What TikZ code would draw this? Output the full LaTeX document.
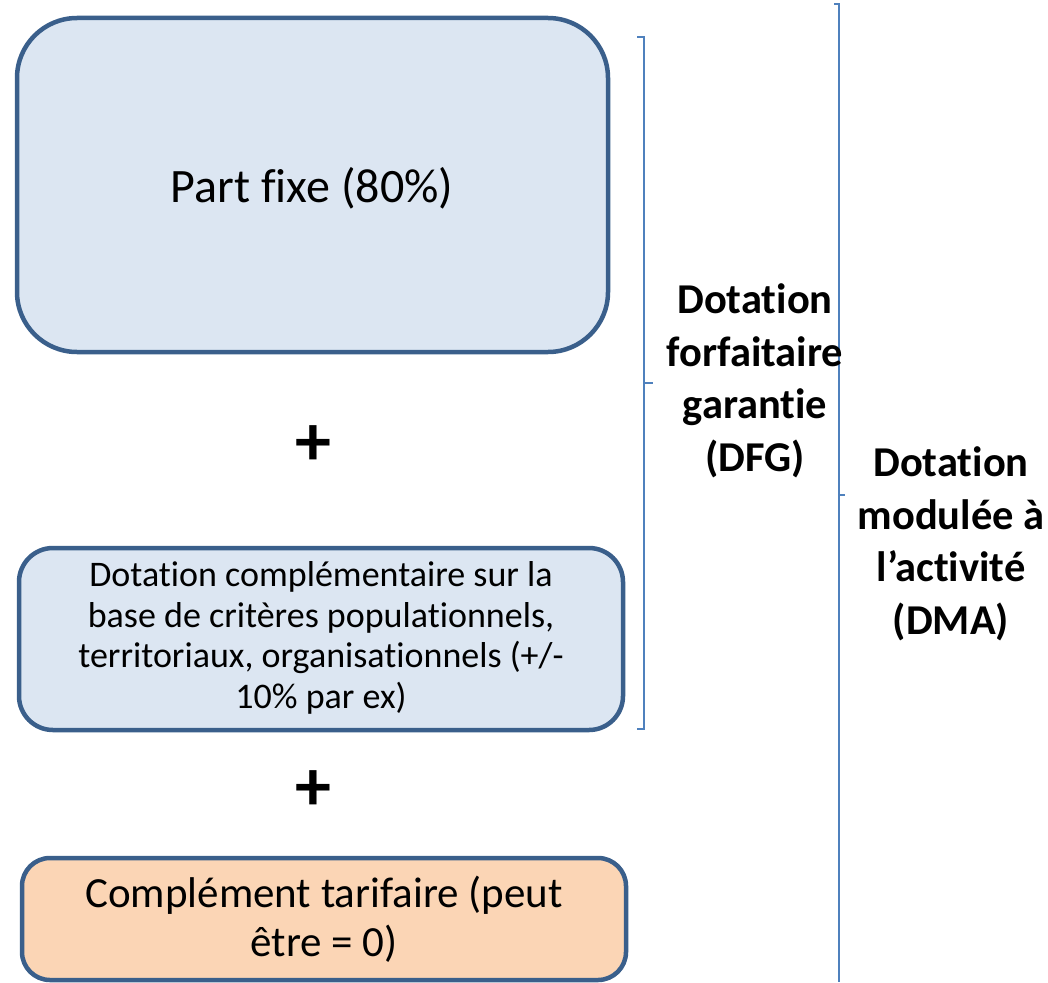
\documentclass[tikz,border=0pt]{standalone}
\usepackage{fontspec}
\setmainfont[Ligatures={NoCommon}]{Carlito}
\definecolor{boxline}{HTML}{3A5F8B}
\definecolor{bluefill}{HTML}{DCE6F2}
\definecolor{orangefill}{HTML}{FBD5B5}
\definecolor{brk}{HTML}{4F81BD}
\begin{document}
\begin{tikzpicture}[x=1pt,y=-1pt,
  box/.style={draw=boxline, line width=4.5pt},
  brace/.style={draw=brk, line width=2.4pt},
  lbl/.style={align=center, font=\fontsize{42.5}{52.5}\selectfont\bfseries, inner sep=0pt},
  plus/.style={font=\fontsize{72}{76}\selectfont\bfseries, inner sep=0pt}]
\useasboundingbox (0,0) rectangle (1048,982);
% boxes
\filldraw[box, fill=bluefill, rounded corners=60pt] (17,18) rectangle (608,352);
\node[inner sep=0pt, font=\fontsize{48}{56}\selectfont] (fixe) at (312,188) {Part fixe (80\%)};
\filldraw[box, fill=bluefill, rounded corners=34pt] (19,548) rectangle (623,730);
\node[inner sep=0pt, align=center, font=\fontsize{36}{40.5}\selectfont] (compl) at (321,638)
  {Dotation complémentaire sur la\\ base de critères populationnels,\\ territoriaux, organisationnels (+/-\\ 10\% par ex)};
\filldraw[box, fill=orangefill, rounded corners=28pt] (22,858) rectangle (626,980);
\node[inner sep=0pt, align=center, font=\fontsize{43}{49}\selectfont] (tarif) at (324,919)
  {Complément tarifaire (peut\\ être = 0)};
% plus signs
\node[plus] (p1) at (313,446) {+};
\node[plus] (p2) at (313,791) {+};
% brackets
\draw[brace] (637,37) -- (644,37) -- (644,729) -- (637,729);
\draw[brace] (644,383) -- (653,383);
\draw[brace] (834,4) -- (839,4) -- (839,982);
\draw[brace] (839,495) -- (845,495);
% labels
\node[lbl] (dfg) at (755,381) {Dotation\\ forfaitaire\\ garantie\\ (DFG)};
\node[lbl] (dma) at (951,544) {Dotation\\ modulée à\\ l’activité\\ (DMA)};
\end{tikzpicture}
\end{document}
